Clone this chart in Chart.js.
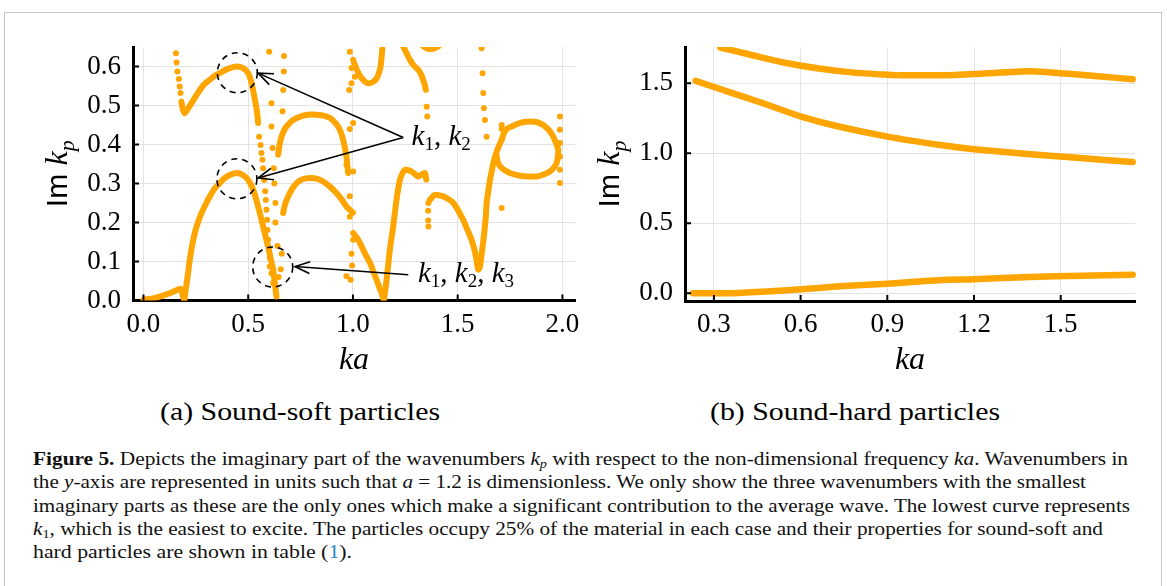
<!DOCTYPE html>
<html>
<head>
<meta charset="utf-8">
<script src="https://cdn.jsdelivr.net/npm/chart.js@4.4.1/dist/chart.umd.min.js"></script>
<style>
  body { margin: 0; background: #fff; width: 1167px; height: 586px; overflow: hidden; position: relative; font-family: 'Liberation Serif', serif; color: #111; }
  #frame { position: absolute; left: 4px; top: 12px; width: 1158px; height: 590px; border: 1px solid #c4c4c4; box-sizing: border-box; }
  canvas { position: absolute; top: 0; }
  .fit { position: absolute; white-space: nowrap; display: inline-block; transform-origin: 0 50%; }
  .sub { font-size: 26px; color: #000; }
  .cap { font-size: 18px; line-height: 23px; }
  .cap sub { font-size: 12px; vertical-align: -3px; line-height: 0; }
  .ref { color: #2a86c8; }
</style>
</head>
<body>
<div id="frame"></div>
<canvas id="soft" width="600" height="390" style="left:0"></canvas>
<canvas id="hard" width="580" height="390" style="left:580px"></canvas>

<div class="fit sub" data-w="280" style="left:160px; top:397px">(a) Sound-soft particles</div>
<div class="fit sub" data-w="290" style="left:710px; top:397px">(b) Sound-hard particles</div>

<div class="fit cap" data-w="1095" style="left:33px; top:448px"><b>Figure 5.</b> Depicts the imaginary part of the wavenumbers <i>k</i><sub><i>p</i></sub> with respect to the non-dimensional frequency <i>ka</i>. Wavenumbers in</div>
<div class="fit cap" data-w="1053" style="left:33px; top:471px">the <i>y</i>-axis are represented in units such that <i>a</i> = 1.2 is dimensionless. We only show the three wavenumbers with the smallest</div>
<div class="fit cap" data-w="1097" style="left:33px; top:495px">imaginary parts as these are the only ones which make a significant contribution to the average wave. The lowest curve represents</div>
<div class="fit cap" data-w="1070" style="left:33px; top:518px"><i>k</i><sub>1</sub>, which is the easiest to excite. The particles occupy 25% of the material in each case and their properties for sound-soft and</div>
<div class="fit cap" data-w="319" style="left:33px; top:541px">hard particles are shown in table (<span class="ref">1</span>).</div>

<script>
const ORANGE = '#FFA500';

// (a) sound-soft: ka vs Im k_p, dense branches
const softLow = [[0.0,0.002],[0.05,0.006],[0.10,0.014],[0.14,0.022],[0.165,0.028],[0.178,0.03],[0.188,0.012],[0.195,0.0]];
const softK1 = [[0.195,0.0],[0.205,0.04],[0.213,0.07],[0.221,0.104],[0.232,0.14],[0.245,0.173],[0.26,0.2],[0.277,0.224],[0.3,0.25],[0.317,0.267],[0.34,0.287],[0.364,0.301],[0.39,0.315],[0.412,0.322],[0.435,0.326],[0.452,0.327],[0.47,0.323],[0.492,0.314],[0.51,0.3],[0.524,0.284],[0.537,0.262],[0.547,0.241],[0.56,0.215],[0.571,0.19],[0.583,0.164],[0.595,0.138],[0.607,0.108],[0.619,0.079],[0.627,0.045],[0.635,0.01]];
const softK2 = [[0.181,0.51],[0.188,0.49],[0.197,0.48],[0.21,0.49],[0.229,0.506],[0.25,0.524],[0.269,0.54],[0.29,0.554],[0.317,0.566],[0.34,0.576],[0.364,0.583],[0.39,0.591],[0.412,0.596],[0.444,0.6],[0.476,0.596],[0.5,0.583],[0.516,0.557],[0.532,0.515],[0.543,0.48],[0.547,0.455]];
const softHumpHigh = [[0.643,0.374],[0.65,0.4],[0.659,0.42],[0.67,0.435],[0.683,0.446],[0.714,0.463],[0.762,0.474],[0.8,0.477],[0.826,0.476],[0.86,0.474],[0.89,0.468],[0.91,0.459],[0.929,0.446],[0.943,0.43],[0.953,0.412],[0.962,0.39],[0.969,0.369],[0.977,0.327]];
const softHumpLow = [[0.667,0.224],[0.675,0.245],[0.691,0.267],[0.71,0.286],[0.731,0.301],[0.76,0.311],[0.794,0.314],[0.83,0.312],[0.858,0.305],[0.89,0.292],[0.922,0.275],[0.945,0.26],[0.969,0.241],[0.99,0.23],[1.0,0.225]];
const softDrop = [[1.001,0.173],[1.025,0.156],[1.04,0.14],[1.057,0.121],[1.075,0.103],[1.089,0.087],[1.1,0.07],[1.113,0.053],[1.125,0.035],[1.137,0.019],[1.144,0.005]];
const softRise = [[1.148,0.0],[1.16,0.05],[1.17,0.1],[1.176,0.13],[1.192,0.19],[1.208,0.258],[1.224,0.309],[1.235,0.325],[1.248,0.335],[1.265,0.334],[1.28,0.331],[1.3,0.322],[1.311,0.318],[1.325,0.322],[1.343,0.327],[1.35,0.31]];
const softValley = [[1.36,0.25],[1.367,0.258],[1.391,0.271],[1.41,0.27],[1.431,0.267],[1.455,0.26],[1.479,0.25],[1.5,0.233],[1.526,0.207],[1.545,0.183],[1.566,0.156],[1.58,0.13],[1.59,0.104],[1.598,0.079],[1.606,0.087],[1.612,0.11],[1.619,0.138],[1.625,0.165],[1.63,0.19],[1.635,0.22],[1.638,0.25],[1.646,0.28],[1.654,0.309],[1.662,0.33],[1.67,0.352],[1.686,0.382],[1.7,0.4],[1.71,0.412]];
const softLoop = [[1.71,0.412],[1.72,0.428],[1.734,0.44],[1.76,0.447],[1.781,0.452],[1.81,0.457],[1.845,0.459],[1.88,0.457],[1.908,0.45],[1.935,0.437],[1.956,0.42],[1.972,0.4],[1.98,0.386],[1.978,0.368],[1.972,0.352],[1.958,0.34],[1.94,0.331],[1.91,0.323],[1.877,0.318],[1.84,0.318],[1.797,0.32],[1.76,0.325],[1.734,0.331],[1.71,0.34],[1.693,0.352],[1.686,0.37]];
const softTopU = [[1.005,0.61],[1.02,0.59],[1.035,0.575],[1.05,0.565],[1.065,0.558],[1.081,0.557],[1.095,0.56],[1.11,0.567],[1.122,0.58],[1.132,0.6],[1.137,0.626],[1.14,0.645]];
const softTopR = [[1.24,0.651],[1.255,0.635],[1.272,0.617],[1.29,0.603],[1.311,0.592],[1.325,0.58],[1.335,0.566],[1.343,0.552],[1.348,0.54]];
const softTopStub = [[1.335,0.652],[1.355,0.646],[1.375,0.645],[1.395,0.648],[1.41,0.653]];

// (a) isolated, sparsely sampled points
const softDots = [
  [0.155,0.634],[0.158,0.61],[0.162,0.587],[0.169,0.568],[0.173,0.549],[0.177,0.532],
  [0.552,0.42],[0.559,0.399],[0.563,0.378],[0.568,0.361],[0.571,0.339],[0.576,0.309],[0.581,0.28],[0.584,0.258],[0.587,0.233],[0.59,0.207],[0.592,0.181],[0.595,0.156],[0.6,0.134],[0.603,0.109],[0.603,0.087],[0.611,0.07],[0.619,0.045],
  [0.6,0.638],[0.671,0.627],[0.67,0.587],[0.667,0.54],[0.664,0.485],[0.611,0.506],[0.611,0.446],[0.616,0.391],[0.622,0.339],[0.625,0.3],[0.63,0.25],[0.63,0.2],[0.64,0.14],[0.66,0.12],[0.655,0.08],[0.645,0.06],
  [0.985,0.638],[1.001,0.617],[0.993,0.596],[1.009,0.574],[0.993,0.557],[0.982,0.54],[1.001,0.455],[0.985,0.44],[0.969,0.348],[1.001,0.331],[0.985,0.267],[0.985,0.215],[1.001,0.156],[0.993,0.12],[0.996,0.09],[0.989,0.053],[0.969,0.062],
  [1.352,0.497],[1.355,0.472],[1.359,0.23],[1.359,0.205],[1.36,0.19],
  [1.614,0.647],[1.619,0.583],[1.622,0.532],[1.625,0.493],[1.63,0.463],[1.638,0.42],
  [1.71,0.237],[1.71,0.45],[1.71,0.44],
  [1.988,0.472],[1.988,0.438],[1.988,0.404],[1.988,0.369],[1.988,0.335],[1.988,0.301]
];

// (b) sound-hard: three smallest Im k_p
const hardK1 = [[0.228,0.0],[0.3,0.0],[0.359,0.0],[0.48,0.012],[0.602,0.029],[0.724,0.048],[0.901,0.069],[1.09,0.095],[1.2,0.1],[1.395,0.117],[1.575,0.125],[1.749,0.133]];
const hardK2 = [[0.237,1.517],[0.359,1.433],[0.48,1.35],[0.602,1.262],[0.724,1.195],[0.901,1.119],[1.09,1.057],[1.2,1.029],[1.395,0.993],[1.578,0.964],[1.749,0.938]];
const hardK3a = [[0.322,1.755],[0.42,1.707],[0.541,1.648],[0.663,1.605],[0.785,1.576],[0.929,1.557]];
const hardK3b = [[0.941,1.557],[1.09,1.557],[1.212,1.567],[1.395,1.586],[1.517,1.569],[1.639,1.548],[1.749,1.529]];

const softXTicks = [0.0, 0.5, 1.0, 1.5, 2.0];
const softYTicks = [0.0, 0.1, 0.2, 0.3, 0.4, 0.5, 0.6];
const hardXTicks = [0.3, 0.6, 0.9, 1.2, 1.5];
const hardYTicks = [0.0, 0.5, 1.0, 1.5];

const toXY = arr => arr.map(p => ({ x: p[0], y: p[1] }));
const tickFont = { family: "'Liberation Serif', serif", size: 27 };
const CLIP = { left: 4, right: 4, top: 0, bottom: 0 };

function curve(d, w) {
  return { data: toXY(d), showLine: true, borderColor: ORANGE, borderWidth: w, pointRadius: 0,
           tension: 0.25, borderCapStyle: 'round', borderJoinStyle: 'round', clip: CLIP };
}

function axis(min, max, ticks, pad, fit) {
  return {
    type: 'linear', min: min, max: max,
    afterBuildTicks: s => { s.ticks = ticks.map(v => ({ value: v })); },
    afterFit: fit,
    grid: { color: '#e3e3e3', lineWidth: 1, drawTicks: false },
    border: { color: '#000', width: 3 },
    ticks: { padding: pad, color: '#000', font: tickFont, callback: v => Number(v).toFixed(1) }
  };
}

// draw text made of pieces (font, dy)
function drawParts(ctx, parts, x, y, align) {
  let total = 0;
  parts.forEach(p => { ctx.font = p.f; p.w = ctx.measureText(p.t).width; total += p.w; });
  let cx = align === 'center' ? x - total / 2 : x;
  ctx.textAlign = 'left';
  ctx.textBaseline = 'alphabetic';
  parts.forEach(p => { ctx.font = p.f; ctx.fillText(p.t, cx, y + (p.dy || 0)); cx += p.w; });
}

const ITAL = "italic 32px 'Liberation Serif'";
const imParts = () => [
  { t: 'Im', f: "30px 'Liberation Sans'" }, { t: ' ', f: "30px 'Liberation Sans'" },
  { t: 'k', f: ITAL }, { t: 'p', f: "italic 22px 'Liberation Serif'", dy: 7 }
];

const axisTitles = {
  id: 'axisTitles',
  afterDraw(chart) {
    const ctx = chart.ctx, a = chart.chartArea;
    const xs = chart.scales.x, ys = chart.scales.y;
    ctx.save();
    ctx.fillStyle = '#000';
    // inward tick marks
    ctx.strokeStyle = '#000';
    ctx.lineWidth = 2;
    ctx.beginPath();
    xs.ticks.forEach(t => { const p = xs.getPixelForValue(t.value); ctx.moveTo(p, a.bottom); ctx.lineTo(p, a.bottom - 6); });
    ys.ticks.forEach(t => { const p = ys.getPixelForValue(t.value); ctx.moveTo(a.left, p); ctx.lineTo(a.left + 6, p); });
    ctx.stroke();
    drawParts(ctx, [{ t: 'ka', f: ITAL }], (a.left + a.right) / 2, 369, 'center');
    ctx.translate(a.left - 66, (a.top + a.bottom) / 2);
    ctx.rotate(-Math.PI / 2);
    drawParts(ctx, imParts(), 0, 0, 'center');
    ctx.restore();
  }
};

// annotation anchors in data units (ka, Im k_p)
const circleCenters = [[0.448, 0.584], [0.446, 0.312], [0.617, 0.086]];
const arrowTail12 = [1.24, 0.418];
const arrowHeads12 = [[0.547, 0.583], [0.547, 0.314]];
const arrowTail3 = [1.264, 0.066];
const arrowHead3 = [0.723, 0.087];
const label12 = [1.28, 0.398];
const label123 = [1.31, 0.048];

const annotations = {
  id: 'annotations',
  afterDatasetsDraw(chart) {
    const ctx = chart.ctx, xs = chart.scales.x, ys = chart.scales.y;
    const P = d => [xs.getPixelForValue(d[0]), ys.getPixelForValue(d[1])];
    ctx.save();
    ctx.strokeStyle = '#000';
    ctx.fillStyle = '#000';
    ctx.lineWidth = 1.6;
    ctx.setLineDash([6, 5]);
    circleCenters.forEach(c => { const p = P(c); ctx.beginPath(); ctx.arc(p[0], p[1], 20, 0, 2 * Math.PI); ctx.stroke(); });
    ctx.setLineDash([]);
    const arrow = (from, to) => {
      const a = P(from), b = P(to);
      const ang = Math.atan2(a[1] - b[1], a[0] - b[0]);
      ctx.beginPath(); ctx.moveTo(a[0], a[1]); ctx.lineTo(b[0], b[1]); ctx.stroke();
      ctx.beginPath();
      ctx.moveTo(b[0] + 16 * Math.cos(ang + 0.38), b[1] + 16 * Math.sin(ang + 0.38));
      ctx.lineTo(b[0], b[1]);
      ctx.lineTo(b[0] + 16 * Math.cos(ang - 0.38), b[1] + 16 * Math.sin(ang - 0.38));
      ctx.stroke();
    };
    arrowHeads12.forEach(h => arrow(arrowTail12, h));
    arrow(arrowTail3, arrowHead3);
    const K = "italic 29px 'Liberation Serif'", S = "19px 'Liberation Serif'", C = "29px 'Liberation Serif'";
    const l1 = P(label12), l2 = P(label123);
    drawParts(ctx, [{ t: 'k', f: K }, { t: '1', f: S, dy: 5 }, { t: ', ', f: C }, { t: 'k', f: K }, { t: '2', f: S, dy: 5 }], l1[0], l1[1], 'left');
    drawParts(ctx, [{ t: 'k', f: K }, { t: '1', f: S, dy: 5 }, { t: ', ', f: C }, { t: 'k', f: K }, { t: '2', f: S, dy: 5 },
                    { t: ', ', f: C }, { t: 'k', f: K }, { t: '3', f: S, dy: 5 }], l2[0], l2[1], 'left');
    ctx.restore();
  }
};

const baseOptions = (xAxis, yAxis, padRight) => ({
  responsive: false, animation: false, events: [],
  layout: { padding: { top: 47, right: padRight, left: 0, bottom: 0 } },
  plugins: { legend: { display: false }, tooltip: { enabled: false } },
  scales: { x: xAxis, y: yAxis }
});

new Chart(document.getElementById('soft'), {
  type: 'scatter',
  data: {
    datasets: [softLow, softK1, softK2, softHumpHigh, softHumpLow, softDrop, softRise, softValley, softLoop, softTopU, softTopR, softTopStub]
      .map(d => curve(d, 6))
      .concat([{ data: toXY(softDots), showLine: false, pointRadius: 3, backgroundColor: ORANGE, borderWidth: 0, clip: CLIP }])
  },
  options: baseOptions(
    axis(-0.05, 2.06, softXTicks, 8, s => { s.height = 89.5; }),
    axis(0, 0.65, softYTicks, 12, s => { s.width = 133; }),
    25),
  plugins: [axisTitles, annotations]
});

new Chart(document.getElementById('hard'), {
  type: 'scatter',
  data: { datasets: [hardK1, hardK2, hardK3a, hardK3b].map(d => curve(d, 6.5)) },
  options: baseOptions(
    axis(0.2, 1.757, hardXTicks, 8, s => { s.height = 89; }),
    axis(-0.055, 1.759, hardYTicks, 12, s => { s.width = 105; }),
    25),
  plugins: [axisTitles]
});

document.querySelectorAll('.fit').forEach(el => {
  const w = el.getBoundingClientRect().width;
  el.style.transform = 'scaleX(' + (el.dataset.w / w) + ')';
});
</script>
</body>
</html>
